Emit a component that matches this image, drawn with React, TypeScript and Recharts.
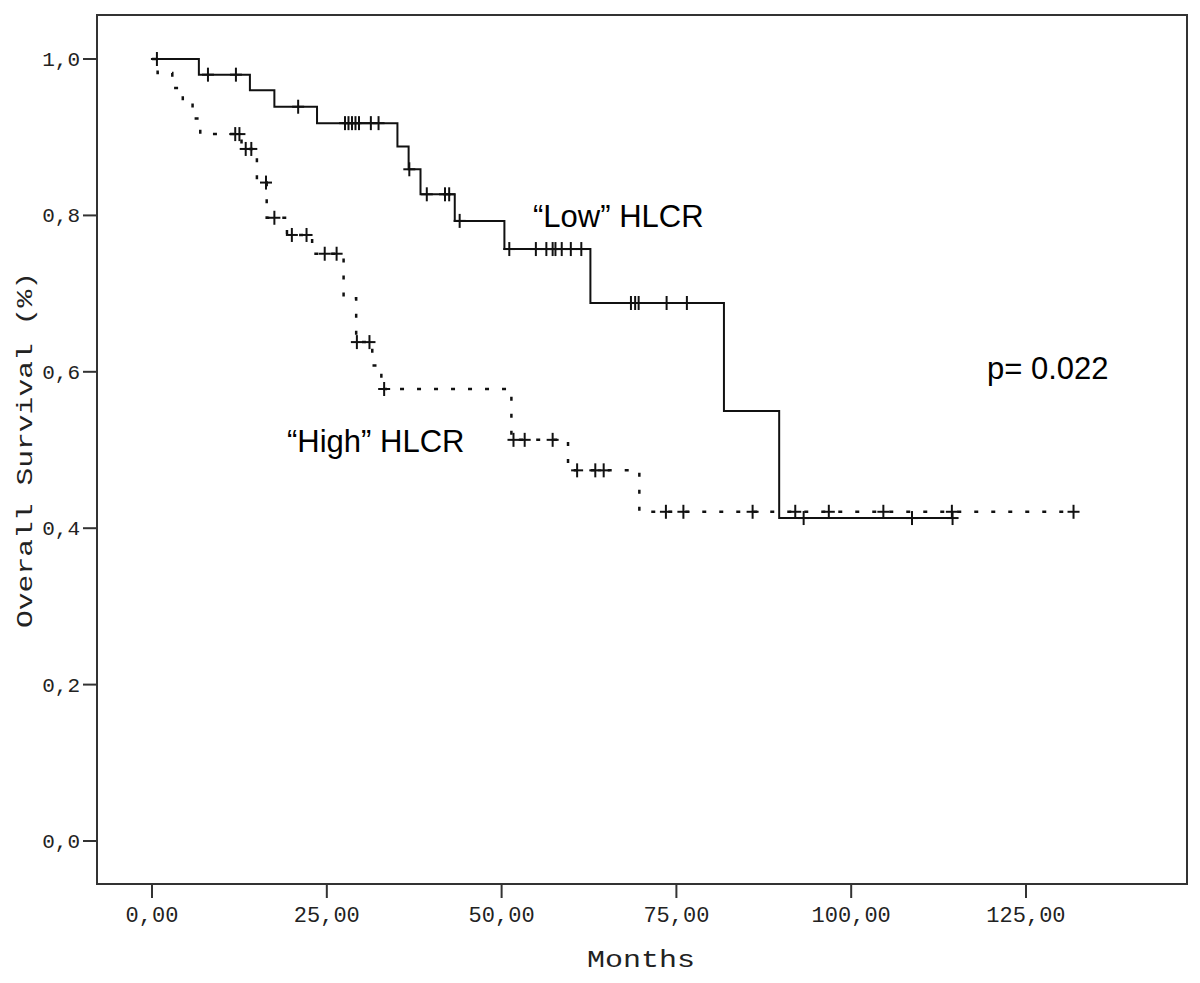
import React from 'react';
import { ComposedChart, Line, Scatter, XAxis, YAxis, Customized, ReferenceArea } from 'recharts';

// Kaplan-Meier step data, "Low" HLCR (solid)
const lowTimes = [0, 6.7, 14.0, 17.5, 23.6, 35.1, 36.7, 38.4, 43.3, 50.4, 62.7, 81.8, 89.7, 114.5];
const lowSurv = [1.0, 0.98, 0.96, 0.939, 0.918, 0.888, 0.859, 0.827, 0.793, 0.757, 0.688, 0.55, 0.413, 0.413];
const lowCensor = [0.7, 8.0, 12.0, 20.9, 27.6, 28.1, 28.6, 29.1, 29.6, 31.3, 32.4, 36.8, 39.3, 41.9, 42.5, 44.0, 51.1, 54.9, 56.4, 57.3, 57.7, 58.6, 59.9, 61.4, 68.5, 69.1, 69.6, 73.6, 76.5, 93.2, 108.7, 114.5];

// "High" HLCR (dotted)
const highTimes = [0, 0.8, 2.9, 4.4, 5.8, 6.9, 12.8, 15.0, 16.4, 19.3, 22.9, 27.4, 29.2, 31.5, 32.8, 51.4, 59.5, 69.7, 131.8];
const highSurv = [1.0, 0.982, 0.963, 0.944, 0.924, 0.904, 0.885, 0.842, 0.797, 0.775, 0.751, 0.694, 0.638, 0.608, 0.578, 0.513, 0.474, 0.421, 0.421];
const highCensor = [11.9, 12.5, 13.4, 14.2, 16.3, 17.5, 20.0, 22.1, 24.7, 26.4, 29.3, 31.1, 33.2, 51.7, 53.3, 57.3, 60.8, 63.4, 64.6, 73.5, 76.0, 85.9, 92.0, 96.8, 104.6, 114.4, 131.8];

const xTicks = [0, 25, 50, 75, 100, 125];
const xTickLabels = ['0,00', '25,00', '50,00', '75,00', '100,00', '125,00'];
const yTicks = [0, 0.2, 0.4, 0.6, 0.8, 1.0];
const yTickLabels = ['0,0', '0,2', '0,4', '0,6', '0,8', '1,0'];

const X_DOMAIN: [number, number] = [-7.87, 148.03];
const Y_DOMAIN: [number, number] = [-0.055, 1.0563];

const survAt = (times: number[], surv: number[], t: number) => {
  let s = surv[0];
  for (let i = 0; i < times.length; i++) if (times[i] <= t) s = surv[i];
  return s;
};

const lowLine = lowTimes.map((t, i) => ({ t, s: lowSurv[i] }));
const highLine = highTimes.map((t, i) => ({ t, s: highSurv[i] }));
const lowMarks = lowCensor.map((t) => ({ t, s: survAt(lowTimes, lowSurv, t) }));
const highMarks = highCensor.map((t) => ({ t, s: survAt(highTimes, highSurv, t) }));

const INK = '#111';

const Plus = (props: any) => {
  const { cx, cy } = props;
  if (cx == null || cy == null) return null;
  return (
    <g>
      <line x1={cx - 6} x2={cx + 6} y1={cy} y2={cy} stroke={INK} strokeWidth={2} />
      <line x1={cx} x2={cx} y1={cy - 7} y2={cy + 7} stroke={INK} strokeWidth={2} />
    </g>
  );
};

const XTick = (props: any) => {
  const { x, y, payload } = props;
  const idx = xTicks.indexOf(payload.value);
  const label = idx >= 0 ? xTickLabels[idx] : String(payload.value);
  return (
    <text x={x} y={y + 24} textAnchor="middle" fontFamily="Liberation Mono" fontSize={22} fill="#222">
      {label}
    </text>
  );
};

const YTick = (props: any) => {
  const { x, y, payload } = props;
  const idx = yTicks.findIndex((v) => Math.abs(v - payload.value) < 1e-6);
  const label = idx >= 0 ? yTickLabels[idx] : String(payload.value);
  return (
    <text x={x} y={y + 7} textAnchor="end" fontFamily="Liberation Mono" fontSize={21} fill="#222">
      {label}
    </text>
  );
};

const Texts = () => (
  <g>
    <text x={533} y={227} fontFamily="Liberation Sans, Arial" fontSize={31} fill="#000">“Low” HLCR</text>
    <text x={287} y={452} fontFamily="Liberation Sans, Arial" fontSize={31} fill="#000">“High” HLCR</text>
    <text x={987} y={379} fontFamily="Liberation Sans, Arial" fontSize={31} fill="#000">p= 0.022</text>
    <text x={641} y={967} textAnchor="middle" fontFamily="Liberation Mono" fontSize={23} fill="#222"
      textLength={108} lengthAdjust="spacingAndGlyphs">Months</text>
    <text x={0} y={0} transform="translate(32,450) rotate(-90)" textAnchor="middle" fontFamily="Liberation Mono"
      fontSize={22} fill="#222" textLength={356} lengthAdjust="spacingAndGlyphs">Overall Survival (%)</text>
  </g>
);

export default function App() {
  const axisStyle = { stroke: '#333', strokeWidth: 2 };
  return (
    <div style={{ position: 'absolute', left: 0, top: 0, width: 1200, height: 983, background: '#fff' }}>
      <ComposedChart width={1200} height={983} margin={{ top: 15, right: 13, bottom: 0, left: 0 }}>
        <XAxis type="number" dataKey="t" domain={X_DOMAIN} ticks={xTicks} allowDataOverflow
          height={99} tickSize={14} tickMargin={0} tick={<XTick />} axisLine={axisStyle} tickLine={axisStyle} />
        <YAxis type="number" dataKey="s" domain={Y_DOMAIN} ticks={yTicks} allowDataOverflow
          width={97} tickSize={14} tickMargin={3} tick={<YTick />} axisLine={axisStyle} tickLine={axisStyle} />
        <ReferenceArea x1={X_DOMAIN[0]} x2={X_DOMAIN[1]} y1={Y_DOMAIN[0]} y2={Y_DOMAIN[1]}
          fill="none" fillOpacity={0} stroke="#333" strokeWidth={2} strokeOpacity={1} ifOverflow="visible" />
        <Line data={highLine} dataKey="s" type="stepAfter" stroke={INK} strokeWidth={2.5}
          strokeDasharray="4 13" dot={false} isAnimationActive={false} />
        <Line data={lowLine} dataKey="s" type="stepAfter" stroke={INK} strokeWidth={2}
          dot={false} isAnimationActive={false} />
        <Scatter data={lowMarks} dataKey="s" shape={<Plus />} isAnimationActive={false} />
        <Scatter data={highMarks} dataKey="s" shape={<Plus />} isAnimationActive={false} />
        <Customized component={Texts} />
      </ComposedChart>
    </div>
  );
}
